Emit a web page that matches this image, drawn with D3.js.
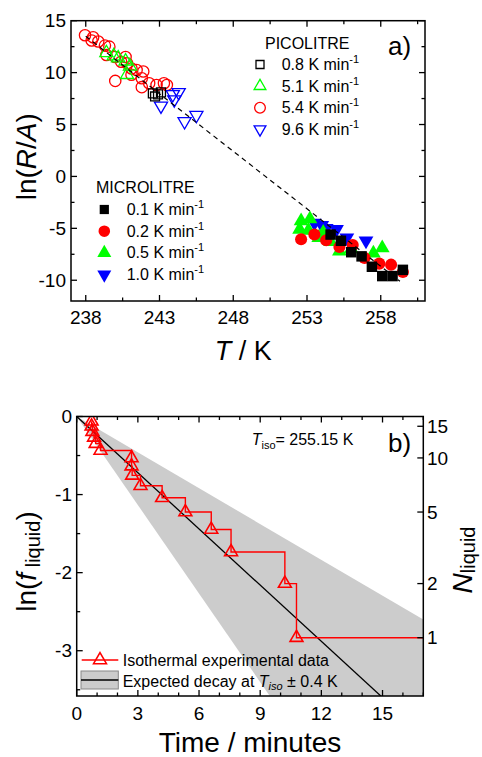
<!DOCTYPE html>
<html><head><meta charset="utf-8">
<script src="https://cdn.jsdelivr.net/npm/d3@7"></script>
<style>
body{margin:0;background:#fff}
svg{display:block}
text{font-family:"Liberation Sans",Arial,sans-serif;fill:#000}
</style>
</head><body><svg id="c" width="482" height="757"></svg>
<script>
// ---------- Panel a data: [T (K), ln(R/A)] ----------
const picoBlack08 = [[242.55,8.0],[242.7,7.7],[242.9,7.9],[243.1,8.1]];
const picoGreen51 = [[239.4,11.9],[239.9,11.6],[240.2,11.4],[240.7,11.1],[241.0,10.6],[240.8,9.8]];
const picoRed54 = [[237.95,13.6],[238.5,13.4],[238.4,13.1],[238.85,13.0],[239.3,12.6],[239.6,12.5],[239.4,11.7],
  [240.0,11.5],[240.4,11.05],[240.8,10.9],[241.1,10.4],[241.45,10.25],[241.9,10.1],[241.8,9.45],[242.3,8.97],
  [241.8,8.6],[242.8,8.8],[243.3,8.97],[243.5,8.8],[240.0,9.2],[241.1,9.8],[240.7,11.5]];
const picoBlue96 = [[244.3,8.1],[244.0,7.4],[243.1,6.8],[244.7,5.3],[245.5,5.9],[243.9,7.9]];
const microBlack01 = [[254.6,-5.6],[255.3,-6.2],[256.0,-7.3],[256.7,-7.7],[257.4,-8.7],[258.1,-9.6],[258.8,-9.6],[259.5,-9.0]];
const microRed02 = [[252.6,-6.05],[253.5,-5.6],[254.3,-6.15],[255.2,-6.8],[256.1,-6.6],[256.9,-7.85],[257.9,-8.4],[258.7,-8.5],[259.5,-9.2]];
const microGreen05 = [[252.6,-4.3],[253.2,-4.1],[252.5,-5.1],[253.8,-5.9],[254.6,-6.3],[255.2,-7.2],[256.0,-7.0],[257.5,-7.4],[258.1,-6.9],[253.1,-5.2],[254.1,-5.4]];
const microBlue10 = [[253.5,-4.5],[254.3,-5.0],[255.0,-5.1],[255.7,-5.9],[257.0,-6.2],[254.0,-4.7]];
const fitLine = [[238.0,13.5],[259.3,-10.1]];
const xTicksA = [238,243,248,253,258];
const xMinorA = [240.5,245.5,250.5,255.5,260.5];
const yTicksA = [-10,-5,0,5,10,15];
const yMinorA = [-7.5,-2.5,2.5,7.5,12.5];

// ---------- Panel b data ----------
const timeMin = [0.73,0.73,0.77,0.85,0.93,1.17,2.69,2.69,2.72,3.13,4.19,5.33,6.60,7.57,10.21,10.78];
const lnFLiquid = [-0.061,-0.125,-0.194,-0.268,-0.348,-0.435,-0.531,-0.636,-0.754,-0.887,-1.041,-1.224,-1.447,-1.735,-2.140,-2.833];
const stepEndTime = 17;
const decayRate = 0.24;           // per minute, expected decay at Tiso
const bandRates = [0.153, 0.378]; // per minute, Tiso ± 0.4 K
const nTotal = 17;
const nTicks = [1,2,5,10,15];
const xTicksB = [0,3,6,9,12,15];
const xMinorB = [1,2,4,5,7,8,10,11,13,14,16,17];
const yTicksB = [0,-1,-2,-3];
const yMinorB = [-0.5,-1.5,-2.5,-3.5];

const svg = d3.select("#c");

function frameAndTicks(g, x, y, xt, xm, yt, ym, opts){
  const [x0,x1] = x.range(), [y0,y1] = y.range();
  const L=6, M=3.5;
  xt.forEach(v=>{ g.append("line").attr("x1",x(v)).attr("x2",x(v)).attr("y1",y0).attr("y2",y0-L);
                  g.append("line").attr("x1",x(v)).attr("x2",x(v)).attr("y1",y1).attr("y2",y1+L); });
  xm.forEach(v=>{ g.append("line").attr("x1",x(v)).attr("x2",x(v)).attr("y1",y0).attr("y2",y0-M);
                  g.append("line").attr("x1",x(v)).attr("x2",x(v)).attr("y1",y1).attr("y2",y1+M); });
  yt.forEach(v=>{ g.append("line").attr("x1",x0).attr("x2",x0+L).attr("y1",y(v)).attr("y2",y(v));
                  if(opts.rightTicks) g.append("line").attr("x1",x1).attr("x2",x1-L).attr("y1",y(v)).attr("y2",y(v)); });
  ym.forEach(v=>{ g.append("line").attr("x1",x0).attr("x2",x0+M).attr("y1",y(v)).attr("y2",y(v));
                  if(opts.rightTicks) g.append("line").attr("x1",x1).attr("x2",x1-M).attr("y1",y(v)).attr("y2",y(v)); });
  g.selectAll("line").attr("stroke","#000").attr("stroke-width",1.3);
  g.append("rect").attr("x",x0).attr("y",y1).attr("width",x1-x0).attr("height",y0-y1)
    .attr("fill","none").attr("stroke","#000").attr("stroke-width",1.5);
  xt.forEach(v=> g.append("text").attr("x",x(v)).attr("y",opts.xLabelY).attr("text-anchor","middle")
    .attr("font-size",19).text(v));
  yt.forEach(v=> g.append("text").attr("x",opts.yLabelX).attr("y",y(v)+6.7).attr("text-anchor","end")
    .attr("font-size",19).text(v));
}

// ================= Panel a =================
const xA = d3.scaleLinear().domain([237,261]).range([71,425]);
const yA = d3.scaleLinear().domain([-12,15]).range([301,20.7]);
const gA = svg.append("g");

function drawSeries(g, data, x, y, type, size, color, filled, rot){
  const sym = d3.symbol().type(type).size(size);
  g.selectAll(null).data(data).enter().append("path")
    .attr("d", sym)
    .attr("transform", d=>`translate(${x(d[0])},${y(d[1])})${rot?" rotate(180)":""}`)
    .attr("fill", filled?color:"none")
    .attr("stroke", color)
    .attr("stroke-width", filled?0:1.3);
}
const dataG = gA.append("g");
drawSeries(dataG, microBlue10, xA, yA, d3.symbolTriangle, 95, "#0000ff", true, true);
drawSeries(dataG, microGreen05, xA, yA, d3.symbolTriangle, 95, "#00ff00", true, false);
drawSeries(dataG, microRed02, xA, yA, d3.symbolCircle, 115, "#ff0000", true, false);
drawSeries(dataG, microBlack01, xA, yA, d3.symbolSquare, 110, "#000000", true, false);
drawSeries(dataG, picoRed54, xA, yA, d3.symbolCircle, 100, "#ff0000", false, false);
drawSeries(dataG, picoGreen51, xA, yA, d3.symbolTriangle, 75, "#00ff00", false, false);
drawSeries(dataG, picoBlue96, xA, yA, d3.symbolTriangle, 75, "#0000ff", false, true);
drawSeries(dataG, picoBlack08, xA, yA, d3.symbolSquare, 80, "#000000", false, false);
gA.append("path").datum(fitLine)
  .attr("d", d3.line().x(d=>xA(d[0])).y(d=>yA(d[1])))
  .attr("fill","none").attr("stroke","#000").attr("stroke-width",1.2).attr("stroke-dasharray","5,4");

frameAndTicks(gA.append("g"), xA, yA, xTicksA, xMinorA, yTicksA, yMinorA, {rightTicks:true, xLabelY:324, yLabelX:66});

const tA = gA.append("text").attr("transform","translate(35.5,156.7) rotate(-90)").attr("text-anchor","middle").attr("font-size",28);
tA.append("tspan").text("ln(");
tA.append("tspan").attr("font-style","italic").text("R");
tA.append("tspan").text("/");
tA.append("tspan").attr("font-style","italic").text("A");
tA.append("tspan").text(")");
const xtA = gA.append("text").attr("x",243.3).attr("y",360).attr("text-anchor","middle").attr("font-size",27);
xtA.append("tspan").attr("font-style","italic").text("T");
xtA.append("tspan").text(" / K");
gA.append("text").attr("x",388).attr("y",55).attr("font-size",26).text("a)");

const picoLegend = [
  {label:"0.8", type:d3.symbolSquare, size:64, color:"#000", rot:false},
  {label:"5.1", type:d3.symbolTriangle, size:60, color:"#00ff00", rot:false},
  {label:"5.4", type:d3.symbolCircle, size:90, color:"#ff0000", rot:false},
  {label:"9.6", type:d3.symbolTriangle, size:60, color:"#0000ff", rot:true}];
const microLegend = [
  {label:"0.1", type:d3.symbolSquare, size:85, color:"#000", rot:false},
  {label:"0.2", type:d3.symbolCircle, size:105, color:"#ff0000", rot:false},
  {label:"0.5", type:d3.symbolTriangle, size:85, color:"#00ff00", rot:false},
  {label:"1.0", type:d3.symbolTriangle, size:85, color:"#0000ff", rot:true}];
function legend(g, title, items, tx, ty, mx, textX, b0, step, filled){
  g.append("text").attr("x",tx).attr("y",ty).attr("font-size",16).text(title);
  items.forEach((it,i)=>{
    const by = b0 + i*step;
    g.append("path").attr("d", d3.symbol().type(it.type).size(it.size))
      .attr("transform",`translate(${mx},${by-5.5})${it.rot?" rotate(180)":""}`)
      .attr("fill", filled?it.color:"none").attr("stroke", it.color).attr("stroke-width", filled?0:1.3);
    const t = g.append("text").attr("x",textX).attr("y",by).attr("font-size",16);
    t.append("tspan").text(it.label + " K min");
    t.append("tspan").attr("font-size",11).attr("dy",-7).text("-1");
  });
}
legend(gA, "PICOLITRE", picoLegend, 265, 48.5, 260, 281.7, 70, 21.6, false);
legend(gA, "MICROLITRE", microLegend, 96, 193.3, 104.3, 126.7, 215, 21.7, true);

// ================= Panel b =================
const xB = d3.scaleLinear().domain([0,17]).range([76.7,423.3]);
const yB = d3.scaleLinear().domain([-3.58,0]).range([696,416.5]);
const gB = svg.append("g");
svg.append("defs").append("clipPath").attr("id","clipB").append("rect")
  .attr("x",76.7).attr("y",416.5).attr("width",423.3-76.7).attr("height",696-416.5);
const plotB = gB.append("g").attr("clip-path","url(#clipB)");
const tEnd = xB.domain()[1];
const band = [[0,0],[tEnd,-bandRates[0]*tEnd],[tEnd,-bandRates[1]*tEnd]];
plotB.append("path").datum(band)
  .attr("d", d3.line().x(d=>xB(d[0])).y(d=>yB(d[1]))).attr("fill","#cccccc").attr("stroke","none");
plotB.append("path").datum([[0,0],[tEnd,-decayRate*tEnd]])
  .attr("d", d3.line().x(d=>xB(d[0])).y(d=>yB(d[1]))).attr("fill","none").attr("stroke","#000").attr("stroke-width",1.3);
const stepPts = timeMin.map((t,i)=>[t,lnFLiquid[i]]);
stepPts.push([stepEndTime, lnFLiquid[lnFLiquid.length-1]]);
plotB.append("path").datum(stepPts)
  .attr("d", d3.line().curve(d3.curveStepAfter).x(d=>xB(d[0])).y(d=>yB(d[1])))
  .attr("fill","none").attr("stroke","#ff0000").attr("stroke-width",1.4);
const triSym = d3.symbol().type(d3.symbolTriangle).size(72);
plotB.selectAll(null).data(timeMin.map((t,i)=>[t,lnFLiquid[i]])).enter().append("path")
  .attr("d",triSym).attr("transform",d=>`translate(${xB(d[0])},${yB(d[1])})`)
  .attr("fill","none").attr("stroke","#ff0000").attr("stroke-width",1.6);

frameAndTicks(gB.append("g"), xB, yB, xTicksB, xMinorB, yTicksB, yMinorB, {rightTicks:false, xLabelY:719.5, yLabelX:72});
nTicks.forEach(n=>{
  const yy = yB(Math.log(n/nTotal));
  gB.append("line").attr("x1",423.3).attr("x2",417.3).attr("y1",yy).attr("y2",yy).attr("stroke","#000").attr("stroke-width",1.3);
  gB.append("text").attr("x",427).attr("y",yy+6.7).attr("font-size",19).text(n);
});

const tB = gB.append("text").attr("transform","translate(35.5,561.5) rotate(-90)").attr("text-anchor","middle").attr("font-size",28);
tB.append("tspan").text("ln(");
tB.append("tspan").attr("font-style","italic").text("f");
tB.append("tspan").attr("font-size",20).attr("dy",4).text(" liquid");
tB.append("tspan").attr("dy",-4).text(")");
const tN = gB.append("text").attr("transform","translate(472,560) rotate(-90)").attr("text-anchor","middle").attr("font-size",28);
tN.append("tspan").attr("font-style","italic").text("N");
tN.append("tspan").attr("font-size",20).attr("dy",3).text("liquid");
gB.append("text").attr("x",250).attr("y",751.5).attr("text-anchor","middle").attr("font-size",28).text("Time / minutes");
gB.append("text").attr("x",388).attr("y",451.7).attr("font-size",26).text("b)");
const ti = gB.append("text").attr("x",251.7).attr("y",445).attr("font-size",16);
ti.append("tspan").attr("font-style","italic").text("T");
ti.append("tspan").attr("font-size",11).attr("dy",4).text("iso");
ti.append("tspan").attr("dy",-4).text("= 255.15 K");

const lg = gB.append("g");
lg.append("line").attr("x1",81.7).attr("x2",118.3).attr("y1",660).attr("y2",660).attr("stroke","#ff0000").attr("stroke-width",1.4);
lg.append("path").attr("d",triSym).attr("transform","translate(100,660)").attr("fill","none").attr("stroke","#ff0000").attr("stroke-width",1.6);
lg.append("text").attr("x",122.7).attr("y",666).attr("font-size",16).text("Isothermal experimental data");
lg.append("rect").attr("x",81).attr("y",671).attr("width",37.3).attr("height",18).attr("fill","#cccccc").attr("stroke","#888").attr("stroke-width",1);
lg.append("line").attr("x1",81).attr("x2",118.3).attr("y1",680).attr("y2",680).attr("stroke","#000").attr("stroke-width",1.3);
const l2 = lg.append("text").attr("x",122.7).attr("y",687).attr("font-size",16);
l2.append("tspan").text("Expected decay at ");
l2.append("tspan").attr("font-style","italic").text("T");
l2.append("tspan").attr("font-style","italic").attr("font-size",11).attr("dy",3).text("iso");
l2.append("tspan").attr("dy",-3).text(" \u00b1 0.4 K");
</script>
</body></html>
